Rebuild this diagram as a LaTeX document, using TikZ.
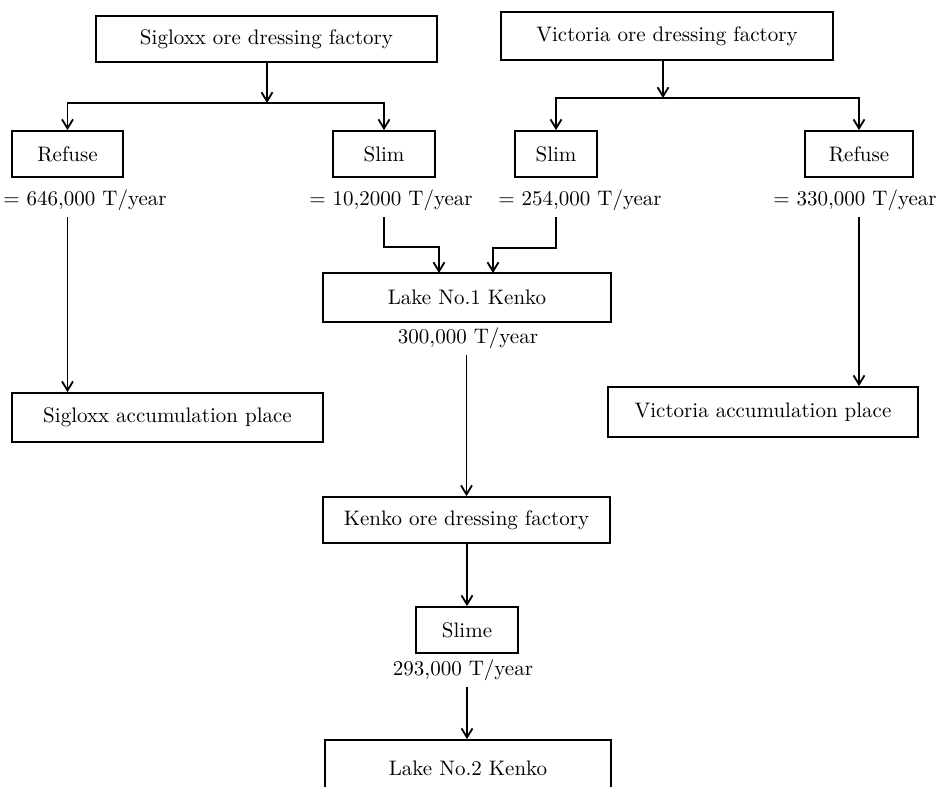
\documentclass[tikz,border=0pt]{standalone}
\usetikzlibrary{arrows.meta, positioning}

\begin{document}
\begin{tikzpicture}[x=0.5pt, y=-0.5pt, font=\fontsize{10.5}{13}\selectfont,
    box/.style={draw, rectangle, line width=0.9pt, inner sep=0pt, minimum height=23pt},
    rate/.style={inner sep=3pt},
    flow/.style={line width=0.9pt, -{Straight Barb[length=4.5pt, width=5.5pt]}}]
    \useasboundingbox (0,0) rectangle (940,786);

    % Ore dressing factories
    \node (sigF) [box, minimum width=170.5pt] at (266.5,39) {Sigloxx ore dressing factory};
    \node (vicF) [box, minimum width=166pt, minimum height=24pt] at (667,36) {Victoria ore dressing factory};

    % Refuse and slim
    \node (refL) [box, minimum width=55.5pt] at (67.5,154) {Refuse};
    \node (slimL) [box, minimum width=51pt] at (384,154) {Slim};
    \node (slimR) [box, minimum width=41pt] at (556,154) {Slim};
    \node (refR) [box, minimum width=54pt] at (859,154) {Refuse};

    \node (rateRefL) [rate] at (85,200) {= 646,000 T/year};
    \node (rateSlimL) [rate] at (391,200) {= 10,2000 T/year};
    \node (rateSlimR) [rate] at (580,200) {= 254,000 T/year};
    \node (rateRefR) [rate] at (855,200) {= 330,000 T/year};

    % Lakes and accumulation places
    \node (lake1) [box, minimum width=144pt, minimum height=24.5pt] at (467,297.5) {Lake No.1 Kenko};
    \node (rateLake1) [rate] at (468,338) {300,000 T/year};
    \node (sigAcc) [box, minimum width=155.5pt, minimum height=24.5pt] at (167.5,417.5) {Sigloxx accumulation place};
    \node (vicAcc) [box, minimum width=155pt, minimum height=25pt] at (763,412) {Victoria accumulation place};

    \node (kenF) [box, minimum width=143.5pt] at (466.5,520) {Kenko ore dressing factory};
    \node (slime) [box, minimum width=51pt] at (467,630) {Slime};
    \node (rateSlime) [rate] at (463,670) {293,000 T/year};
    \node (lake2) [box, minimum width=143pt, minimum height=28pt] at (468,768) {Lake No.2 Kenko};

    % Junctions
    \coordinate (sigJ) at (267,103);
    \coordinate (vicJ) at (663,98);
    \coordinate (inL) at (439,273);
    \coordinate (inR) at (493,273);

    % Connections
    \draw[flow] (sigF.south -| sigJ) -- (sigJ);
    \draw[flow] (sigJ) -| (refL);
    \draw[flow] (sigJ) -| (slimL);
    \draw[flow] (vicF.south -| vicJ) -- (vicJ);
    \draw[flow] (vicJ) -| (slimR);
    \draw[flow] (vicJ) -| (refR);
    \draw[flow] (rateRefL.south -| refL) -- (refL |- sigAcc.north);
    \draw[flow] (rateRefR.south -| refR) -- (refR |- vicAcc.north);
    \draw[flow] (rateSlimL.south -| slimL) -- ++(0,30) -| (inL);
    \draw[flow] (rateSlimR.south -| slimR) -- ++(0,31) -| (inR);
    \draw[flow] (rateLake1.south -| kenF) -- (kenF);
    \draw[flow] (kenF.south -| slime) -- (slime);
    \draw[flow] (rateSlime.south -| slime) -- (slime |- lake2.north);
\end{tikzpicture}
\end{document}
